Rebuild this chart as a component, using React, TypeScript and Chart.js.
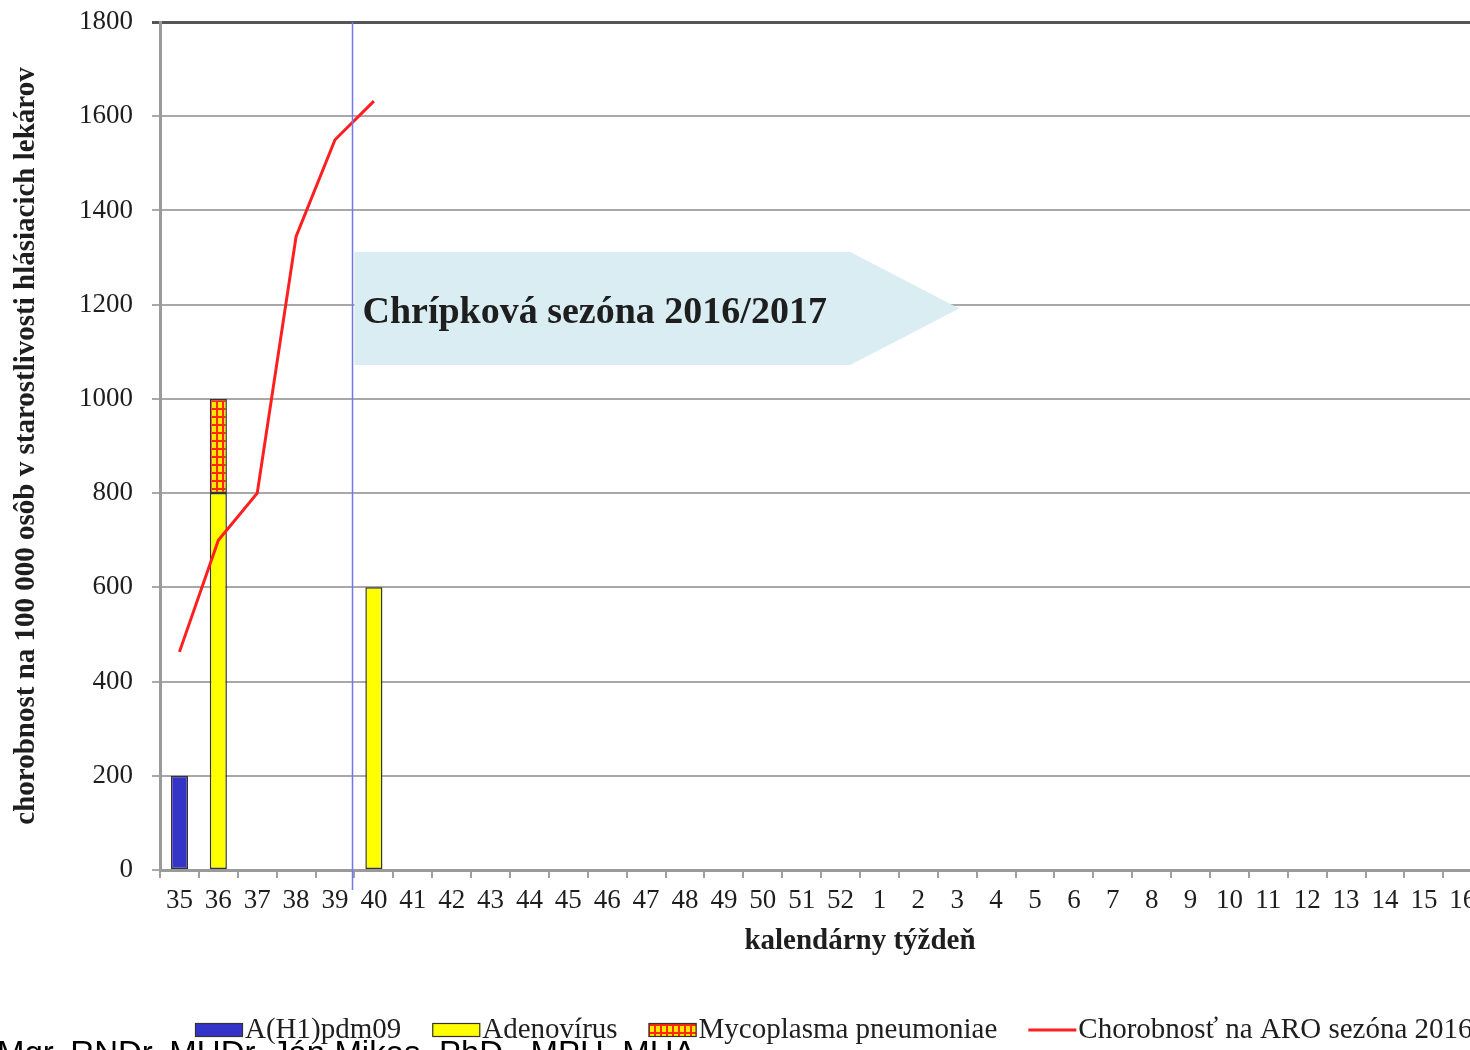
import React, { useEffect, useRef } from "react";
import { Chart, registerables } from "chart.js";

Chart.register(...registerables);

// ---------- data ----------
const weeks = [
  "35", "36", "37", "38", "39", "40", "41", "42", "43", "44", "45", "46", "47", "48", "49", "50", "51", "52",
  "1", "2", "3", "4", "5", "6", "7", "8", "9", "10", "11", "12", "13", "14", "15", "16", "17", "18",
];

const h1Weeks = ["35"];
const h1Values = [200];

const adenoWeeks = ["36", "40"];
const adenoValues = [800, 600];

const mycoWeeks = ["36"];
const mycoValues = [200];

const aroWeeks = ["35", "36", "37", "38", "39", "40"];
const aroValues = [463, 700, 800, 1345, 1550, 1632];

const yTicks = [0, 200, 400, 600, 800, 1000, 1200, 1400, 1600, 1800];

const seriesLabels = [
  "A(H1)pdm09",
  "Adenovírus",
  "Mycoplasma pneumoniae",
  "Chorobnosť na ARO sezóna 2016/2017",
];

const seasonStartWeek = "40";
const seasonText = "Chrípková sezóna 2016/2017";
const xTitle = "kalendárny týždeň";
const yTitle = "chorobnost na 100 000 osôb v starostlivosti hlásiacich lekárov";
const footerText = "Mgr. RNDr. MUDr. Ján Mikas, PhD., MPH, MHA";

// ---------- styles ----------
const SERIF = '"Liberation Serif", "Times New Roman", serif';
const BLUE = "#3434c8";
const YELLOW = "#ffff00";
const RED = "#ff1f1f";
const TEXT = "#1e1e1e";

const pair = (ws: string[], vs: number[]) => ws.map((w, i) => ({ x: w, y: vs[i] }));

function makeGridPattern(): CanvasPattern | string {
  const c = document.createElement("canvas");
  c.width = 6;
  c.height = 8;
  const g = c.getContext("2d");
  if (!g) return "#ffaa00";
  g.fillStyle = "#ffe800";
  g.fillRect(0, 0, 6, 8);
  g.fillStyle = "#ff2a00";
  g.fillRect(0, 0, 6, 2);
  g.fillRect(0, 0, 2, 8);
  return g.createPattern(c, "repeat") || "#ffaa00";
}

const seasonPlugin = {
  id: "seasonPlugin",
  beforeDatasetsDraw(chart: any) {
    const { ctx, scales } = chart;
    const x = scales.x;
    const y = scales.y;
    const step = x.getPixelForValue(1) - x.getPixelForValue(0);
    const startIdx = weeks.indexOf(seasonStartWeek) - 0.5;
    const left = x.getPixelForValue(0) + startIdx * step;
    const bodyEnd = x.getPixelForValue(0) + 17.25 * step;
    const tip = x.getPixelForValue(0) + 20.05 * step;
    const top = y.getPixelForValue(1312);
    const bottom = y.getPixelForValue(1072);
    const mid = (top + bottom) / 2;
    ctx.save();
    ctx.fillStyle = "#daedf3";
    ctx.beginPath();
    ctx.moveTo(left, top);
    ctx.lineTo(bodyEnd, top);
    ctx.lineTo(tip, mid);
    ctx.lineTo(bodyEnd, bottom);
    ctx.lineTo(left, bottom);
    ctx.closePath();
    ctx.fill();
    ctx.fillStyle = TEXT;
    ctx.font = `bold 38px ${SERIF}`;
    ctx.textBaseline = "middle";
    ctx.textAlign = "left";
    ctx.fillText(seasonText, left + 8, mid + 5);
    ctx.restore();
  },
  afterDatasetsDraw(chart: any) {
    const { ctx, scales, chartArea } = chart;
    const x = scales.x;
    const step = x.getPixelForValue(1) - x.getPixelForValue(0);
    const startIdx = weeks.indexOf(seasonStartWeek) - 0.5;
    const lx = Math.round(x.getPixelForValue(0) + startIdx * step) - 1.5;
    ctx.save();
    ctx.strokeStyle = "#7474ee";
    ctx.lineWidth = 1.5;
    ctx.beginPath();
    ctx.moveTo(lx, chartArea.top);
    ctx.lineTo(lx, chartArea.bottom + 20);
    ctx.stroke();
    ctx.restore();
  },
  afterDraw(chart: any) {
    const { ctx, chartArea } = chart;
    const dsets = chart.data.datasets;
    ctx.save();
    ctx.font = `29px ${SERIF}`;
    ctx.textBaseline = "middle";
    ctx.textAlign = "left";
    let cx = chartArea.left + 35;
    const cy = 1030;
    dsets.forEach((ds: any) => {
      if (ds.type === "line") {
        ctx.strokeStyle = ds.borderColor;
        ctx.lineWidth = 3;
        ctx.beginPath();
        ctx.moveTo(cx, cy);
        ctx.lineTo(cx + 48, cy);
        ctx.stroke();
      } else {
        ctx.fillStyle = ds.backgroundColor;
        ctx.fillRect(cx, cy - 7, 48, 14);
        ctx.strokeStyle = "#333";
        ctx.lineWidth = 1.2;
        ctx.strokeRect(cx + 0.5, cy - 6.5, 47, 13);
      }
      cx += 50;
      ctx.fillStyle = TEXT;
      ctx.fillText(ds.label, cx, cy);
      cx += ctx.measureText(ds.label).width + 31;
    });
    ctx.restore();
  },
};

export default function App() {
  const ref = useRef<HTMLCanvasElement | null>(null);

  useEffect(() => {
    const canvas = ref.current;
    if (!canvas) return;
    Chart.defaults.font.family = SERIF;
    Chart.defaults.color = TEXT;
    const pattern = makeGridPattern();

    const chart = new Chart(canvas, {
      type: "bar",
      data: {
        labels: weeks,
        datasets: [
          {
            type: "bar",
            label: seriesLabels[0],
            data: pair(h1Weeks, h1Values) as any,
            backgroundColor: BLUE,
            borderColor: "#333",
            borderWidth: 1.5,
            borderSkipped: false,
            order: 1,
          },
          {
            type: "bar",
            label: seriesLabels[1],
            data: pair(adenoWeeks, adenoValues) as any,
            backgroundColor: YELLOW,
            borderColor: "#333",
            borderWidth: 1.5,
            borderSkipped: false,
            order: 1,
          },
          {
            type: "bar",
            label: seriesLabels[2],
            data: pair(mycoWeeks, mycoValues) as any,
            backgroundColor: pattern as any,
            borderColor: "#333",
            borderWidth: 1.5,
            borderSkipped: false,
            order: 1,
          },
          {
            type: "line",
            label: seriesLabels[3],
            data: pair(aroWeeks, aroValues) as any,
            borderColor: RED,
            backgroundColor: RED,
            borderWidth: 3,
            pointRadius: 0,
            tension: 0,
            fill: false,
            stack: "aro",
            order: 0,
          } as any,
        ],
      },
      options: {
        responsive: false,
        animation: false,
        devicePixelRatio: 1,
        layout: { autoPadding: false, padding: { left: 0, top: 22, right: 160, bottom: 90 } },
        plugins: {
          legend: { display: false },
          tooltip: { enabled: false },
        },
        datasets: {
          bar: { barPercentage: 0.44, categoryPercentage: 1 },
        },
        scales: {
          x: {
            stacked: true,
            grid: {
              display: true,
              drawOnChartArea: false,
              drawTicks: true,
              tickLength: 8,
              color: "#a0a0a0",
              lineWidth: 2,
              offset: true,
            },
            border: { display: true, color: "#9a9a9a", width: 3 },
            ticks: {
              autoSkip: false,
              maxRotation: 0,
              padding: 7,
              color: TEXT,
              font: { size: 27, family: SERIF },
            },
            title: {
              display: true,
              text: xTitle,
              color: TEXT,
              font: { size: 29, weight: "bold", family: SERIF },
              padding: { top: 0, bottom: 1 },
            },
            afterFit: (s: any) => {
              s.height = 90;
            },
          },
          y: {
            stacked: true,
            min: 0,
            max: 1800,
            afterBuildTicks: (s: any) => {
              s.ticks = yTicks.map((v) => ({ value: v }));
            },
            grid: {
              drawTicks: true,
              tickLength: 8,
              color: (c: any) => (c.tick && c.tick.value === 1800 ? "#555555" : "#a8a8a8"),
              lineWidth: (c: any) => (c.tick && c.tick.value === 1800 ? 3 : 2),
            },
            border: { display: true, color: "#9a9a9a", width: 3 },
            ticks: {
              padding: 19,
              color: TEXT,
              font: { size: 27, family: SERIF, lineHeight: 0.1 },
              callback: (v: any) => String(v),
            },
            title: {
              display: true,
              text: yTitle,
              color: TEXT,
              font: { size: 29, weight: "bold", family: SERIF },
              padding: { top: 9, bottom: 0 },
            },
            afterFit: (s: any) => {
              s.width = 160;
            },
          },
        },
      },
      plugins: [seasonPlugin],
    });

    return () => chart.destroy();
  }, []);

  return (
    <div
      style={{
        position: "fixed",
        left: 0,
        top: 0,
        width: 1470,
        height: 1050,
        overflow: "hidden",
        background: "#ffffff",
      }}
    >
      <canvas
        ref={ref}
        width={1720}
        height={1050}
        style={{ position: "absolute", left: 0, top: 0, width: 1720, height: 1050 }}
      />
      <div
        style={{
          position: "absolute",
          left: -3,
          top: 1034,
          font: '33px "Liberation Sans", Arial, sans-serif',
          color: "#000",
          whiteSpace: "nowrap",
        }}
      >
        {footerText}
      </div>
    </div>
  );
}
